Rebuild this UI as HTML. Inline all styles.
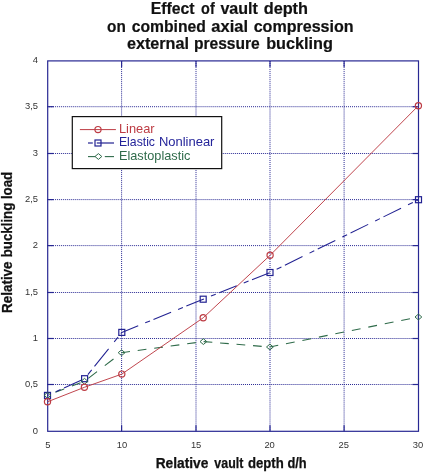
<!DOCTYPE html><html><head><meta charset="utf-8"><title>Effect of vault depth</title>
<style>html,body{margin:0;padding:0;background:#fff}svg{display:block}text{font-family:"Liberation Sans",Arial,sans-serif}</style></head><body>
<svg width="425" height="474" viewBox="0 0 425 474">
<rect width="425" height="474" fill="#fff"/>
<g stroke="#282893" stroke-width="1" stroke-dasharray="1 1.02"><line x1="121.6" y1="61" x2="121.6" y2="431.3"/><line x1="196.0" y1="61" x2="196.0" y2="431.3"/><line x1="270.0" y1="61" x2="270.0" y2="431.3"/><line x1="344.1" y1="61" x2="344.1" y2="431.3"/><line x1="47" y1="384.5" x2="418.5" y2="384.5"/><line x1="47" y1="338.5" x2="418.5" y2="338.5"/><line x1="47" y1="292.5" x2="418.5" y2="292.5"/><line x1="47" y1="245.6" x2="418.5" y2="245.6"/><line x1="47" y1="199.6" x2="418.5" y2="199.6"/><line x1="47" y1="153.5" x2="418.5" y2="153.5"/><line x1="47" y1="106.7" x2="418.5" y2="106.7"/></g>
<g stroke="#282893" stroke-width="1.2"><line x1="121.6" y1="60.9" x2="121.6" y2="66.9"/><line x1="121.6" y1="431.3" x2="121.6" y2="425.3"/><line x1="196.0" y1="60.9" x2="196.0" y2="66.9"/><line x1="196.0" y1="431.3" x2="196.0" y2="425.3"/><line x1="270.0" y1="60.9" x2="270.0" y2="66.9"/><line x1="270.0" y1="431.3" x2="270.0" y2="425.3"/><line x1="344.1" y1="60.9" x2="344.1" y2="66.9"/><line x1="344.1" y1="431.3" x2="344.1" y2="425.3"/><line x1="47.7" y1="384.5" x2="53.7" y2="384.5"/><line x1="418.5" y1="384.5" x2="412.5" y2="384.5"/><line x1="47.7" y1="338.5" x2="53.7" y2="338.5"/><line x1="418.5" y1="338.5" x2="412.5" y2="338.5"/><line x1="47.7" y1="292.5" x2="53.7" y2="292.5"/><line x1="418.5" y1="292.5" x2="412.5" y2="292.5"/><line x1="47.7" y1="245.6" x2="53.7" y2="245.6"/><line x1="418.5" y1="245.6" x2="412.5" y2="245.6"/><line x1="47.7" y1="199.6" x2="53.7" y2="199.6"/><line x1="418.5" y1="199.6" x2="412.5" y2="199.6"/><line x1="47.7" y1="153.5" x2="53.7" y2="153.5"/><line x1="418.5" y1="153.5" x2="412.5" y2="153.5"/><line x1="47.7" y1="106.7" x2="53.7" y2="106.7"/><line x1="418.5" y1="106.7" x2="412.5" y2="106.7"/></g>
<rect x="47.7" y="60.9" width="370.8" height="370.4" fill="none" stroke="#282893" stroke-width="1.2"/>
<path d="M47.50 395.30L47.60 395.26M55.35 392.33L64.10 389.02M71.85 386.09L80.55 382.79M88.31 378.37L97.02 371.65M104.78 365.67L113.49 358.95M121.25 352.97L121.60 352.70M121.60 352.70L129.95 351.57M137.70 350.52L146.40 349.33M154.20 348.28L162.90 347.10M170.65 346.04L179.35 344.86M187.15 343.81L195.85 342.62M203.60 341.62L212.31 342.32M220.06 342.95L228.77 343.66M236.52 344.29L245.23 345.00M253.04 345.63L261.69 346.33M269.50 346.97L269.90 347.00M269.90 347.00L278.20 345.32M285.95 343.76L294.65 342.00M302.40 340.43L311.15 338.67M318.90 337.10L327.60 335.34M335.35 333.78L344.05 332.02M351.85 330.44L360.55 328.69M368.30 327.12L377.00 325.36M384.75 323.80L393.50 322.03M401.25 320.46L409.95 318.71M417.70 317.14L418.40 317.00" fill="none" stroke="#2f6b4a" stroke-width="1.1"/>
<path d="M47.50 395.40L48.75 394.84M55.76 391.68L60.57 389.52M64.02 387.96L81.65 380.03M87.85 374.65L91.67 369.90M94.48 366.40L108.58 348.85M114.21 341.85L118.06 337.05M120.84 333.60L121.80 332.40M121.80 332.40L138.21 325.71M145.21 322.85L150.02 320.89M153.47 319.48L171.08 312.30M178.08 309.44L182.89 307.48M186.34 306.08L203.20 299.20M203.20 299.20L203.95 298.90M210.95 296.10L215.75 294.18M219.20 292.80L236.75 285.79M243.75 282.99L248.55 281.07M252.00 279.69L269.65 272.64M276.65 269.24L281.40 266.91M284.90 265.20L302.50 256.57M309.50 253.14L314.25 250.81M317.75 249.09L335.30 240.49M342.30 237.06L347.10 234.70M350.55 233.01L368.20 224.36M375.20 220.93L379.95 218.60M383.45 216.88L401.05 208.25M408.05 204.82L412.85 202.47M416.30 200.78L418.50 199.70" fill="none" stroke="#222292" stroke-width="1.05"/>
<polyline points="47.5,401.8 84.4,387.3 121.8,374.1 203.2,317.8 270.1,255.3 418.4,105.7" fill="none" stroke="#bd3c44" stroke-width="0.95"/>
<rect x="44.5" y="392.4" width="6" height="6" fill="none" stroke="#222292" stroke-width="1.2"/>
<rect x="81.6" y="375.7" width="6" height="6" fill="none" stroke="#222292" stroke-width="1.2"/>
<rect x="118.8" y="329.4" width="6" height="6" fill="none" stroke="#222292" stroke-width="1.2"/>
<rect x="200.2" y="296.2" width="6" height="6" fill="none" stroke="#222292" stroke-width="1.2"/>
<rect x="267.0" y="269.5" width="6" height="6" fill="none" stroke="#222292" stroke-width="1.2"/>
<rect x="415.5" y="196.7" width="6" height="6" fill="none" stroke="#222292" stroke-width="1.2"/>
<path d="M44.1 395.3L47.5 392.4L50.9 395.3L47.5 398.2Z" fill="none" stroke="#2f6b4a" stroke-width="1"/>
<path d="M81.1 381.3L84.5 378.4L87.9 381.3L84.5 384.2Z" fill="none" stroke="#2f6b4a" stroke-width="1"/>
<path d="M118.2 352.7L121.6 349.8L125.0 352.7L121.6 355.6Z" fill="none" stroke="#2f6b4a" stroke-width="1"/>
<path d="M200.0 341.6L203.4 338.7L206.8 341.6L203.4 344.5Z" fill="none" stroke="#2f6b4a" stroke-width="1"/>
<path d="M266.5 347.0L269.9 344.1L273.3 347.0L269.9 349.9Z" fill="none" stroke="#2f6b4a" stroke-width="1"/>
<path d="M415.0 317.0L418.4 314.1L421.8 317.0L418.4 319.9Z" fill="none" stroke="#2f6b4a" stroke-width="1"/>
<circle cx="47.5" cy="401.8" r="3.1" fill="none" stroke="#bd3c44" stroke-width="1.2"/>
<circle cx="84.4" cy="387.3" r="3.1" fill="none" stroke="#bd3c44" stroke-width="1.2"/>
<circle cx="121.8" cy="374.1" r="3.1" fill="none" stroke="#bd3c44" stroke-width="1.2"/>
<circle cx="203.2" cy="317.8" r="3.1" fill="none" stroke="#bd3c44" stroke-width="1.2"/>
<circle cx="270.1" cy="255.3" r="3.1" fill="none" stroke="#bd3c44" stroke-width="1.2"/>
<circle cx="418.4" cy="105.7" r="3.1" fill="none" stroke="#bd3c44" stroke-width="1.2"/>
<rect x="72.3" y="116.6" width="149.4" height="52" fill="#fff" stroke="#111" stroke-width="1.2"/>
<line x1="79.9" y1="129.6" x2="115.9" y2="129.6" stroke="#bd3c44" stroke-width="1"/><circle cx="98.0" cy="129.6" r="3.1" fill="none" stroke="#bd3c44" stroke-width="1.2"/>
<line x1="88" y1="143" x2="92.8" y2="143" stroke="#222292" stroke-width="1.2"/><line x1="96.8" y1="143" x2="114" y2="143" stroke="#222292" stroke-width="1.2"/><rect x="95.0" y="140.0" width="6" height="6" fill="none" stroke="#222292" stroke-width="1.2"/>
<line x1="88" y1="156.6" x2="95.2" y2="156.6" stroke="#2f6b4a" stroke-width="1.1"/><line x1="104.8" y1="156.6" x2="114" y2="156.6" stroke="#2f6b4a" stroke-width="1.1"/><path d="M95.0 156.5L98.4 153.6L101.8 156.5L98.4 159.4Z" fill="none" stroke="#2f6b4a" stroke-width="1"/>
<text x="150.70" y="13.5" font-size="16" font-weight="bold" fill="#111" stroke="#111" stroke-width="0.2" textLength="43.85" lengthAdjust="spacingAndGlyphs">Effect</text>
<text x="201.10" y="13.5" font-size="16" font-weight="bold" fill="#111" stroke="#111" stroke-width="0.2" textLength="13.60" lengthAdjust="spacingAndGlyphs">of</text>
<text x="220.40" y="13.5" font-size="16" font-weight="bold" fill="#111" stroke="#111" stroke-width="0.2" textLength="37.50" lengthAdjust="spacingAndGlyphs">vault</text>
<text x="263.70" y="13.5" font-size="16" font-weight="bold" fill="#111" stroke="#111" stroke-width="0.2" textLength="44.30" lengthAdjust="spacingAndGlyphs">depth</text>
<text x="107.10" y="31.55" font-size="16" font-weight="bold" fill="#111" stroke="#111" stroke-width="0.2" textLength="18.70" lengthAdjust="spacingAndGlyphs">on</text>
<text x="131.80" y="31.55" font-size="16" font-weight="bold" fill="#111" stroke="#111" stroke-width="0.2" textLength="74.00" lengthAdjust="spacingAndGlyphs">combined</text>
<text x="211.35" y="31.55" font-size="16" font-weight="bold" fill="#111" stroke="#111" stroke-width="0.2" textLength="36.65" lengthAdjust="spacingAndGlyphs">axial</text>
<text x="253.65" y="31.55" font-size="16" font-weight="bold" fill="#111" stroke="#111" stroke-width="0.2" textLength="99.95" lengthAdjust="spacingAndGlyphs">compression</text>
<text x="126.90" y="49.4" font-size="16" font-weight="bold" fill="#111" stroke="#111" stroke-width="0.2" textLength="62.05" lengthAdjust="spacingAndGlyphs">external</text>
<text x="193.95" y="49.4" font-size="16" font-weight="bold" fill="#111" stroke="#111" stroke-width="0.2" textLength="65.80" lengthAdjust="spacingAndGlyphs">pressure</text>
<text x="266.20" y="49.4" font-size="16" font-weight="bold" fill="#111" stroke="#111" stroke-width="0.2" textLength="66.75" lengthAdjust="spacingAndGlyphs">buckling</text>
<text x="155.65" y="467.8" font-size="13.8" font-weight="bold" fill="#111" stroke="#111" stroke-width="0.25" textLength="52.65" lengthAdjust="spacingAndGlyphs">Relative</text>
<text x="214.35" y="467.8" font-size="13.8" font-weight="bold" fill="#111" stroke="#111" stroke-width="0.25" textLength="28.95" lengthAdjust="spacingAndGlyphs">vault</text>
<text x="248.00" y="467.8" font-size="13.8" font-weight="bold" fill="#111" stroke="#111" stroke-width="0.25" textLength="35.75" lengthAdjust="spacingAndGlyphs">depth</text>
<text x="287.45" y="467.8" font-size="13.8" font-weight="bold" fill="#111" stroke="#111" stroke-width="0.25" textLength="19.25" lengthAdjust="spacingAndGlyphs">d/h</text>
<text transform="rotate(-90)" x="-312.95" y="12.3" font-size="13.8" font-weight="bold" fill="#111" stroke="#111" stroke-width="0.25" textLength="51.50" lengthAdjust="spacingAndGlyphs">Relative</text>
<text transform="rotate(-90)" x="-257.30" y="12.3" font-size="13.8" font-weight="bold" fill="#111" stroke="#111" stroke-width="0.25" textLength="54.65" lengthAdjust="spacingAndGlyphs">buckling</text>
<text transform="rotate(-90)" x="-199.10" y="12.3" font-size="13.8" font-weight="bold" fill="#111" stroke="#111" stroke-width="0.25" textLength="27.25" lengthAdjust="spacingAndGlyphs">load</text>
<text x="118.95" y="132.8" font-size="12.6" font-weight="normal" fill="#bd3c44" textLength="35.70" lengthAdjust="spacingAndGlyphs">Linear</text>
<text x="118.95" y="146.3" font-size="12.6" font-weight="normal" fill="#24249a" textLength="36.05" lengthAdjust="spacingAndGlyphs">Elastic</text>
<text x="158.90" y="146.3" font-size="12.6" font-weight="normal" fill="#24249a" textLength="55.55" lengthAdjust="spacingAndGlyphs">Nonlinear</text>
<text x="118.95" y="159.6" font-size="12.6" font-weight="normal" fill="#2f6b4a" textLength="71.45" lengthAdjust="spacingAndGlyphs">Elastoplastic</text>
<g font-size="9.4" fill="#333"><text x="47.8" y="448.2" text-anchor="middle">5</text><text x="121.9" y="448.2" text-anchor="middle">10</text><text x="196.1" y="448.2" text-anchor="middle">15</text><text x="269.6" y="448.2" text-anchor="middle">20</text><text x="343.7" y="448.2" text-anchor="middle">25</text><text x="417.9" y="448.2" text-anchor="middle">30</text><text x="38.0" y="433.8" text-anchor="end">0</text><text x="38.0" y="387.4" text-anchor="end">0,5</text><text x="38.0" y="341.1" text-anchor="end">1</text><text x="38.0" y="294.7" text-anchor="end">1,5</text><text x="38.0" y="248.4" text-anchor="end">2</text><text x="38.0" y="202.0" text-anchor="end">2,5</text><text x="38.0" y="155.6" text-anchor="end">3</text><text x="38.0" y="109.3" text-anchor="end">3,5</text><text x="38.0" y="62.9" text-anchor="end">4</text></g>
</svg></body></html>
